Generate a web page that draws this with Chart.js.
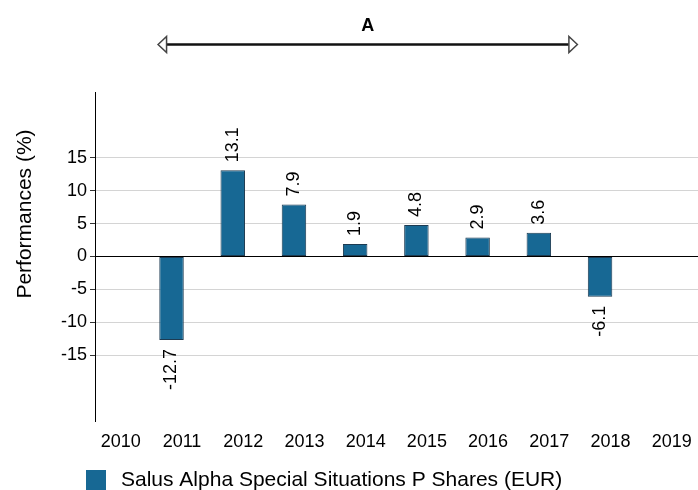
<!DOCTYPE html>
<html><head><meta charset="utf-8">
<script src="https://cdn.jsdelivr.net/npm/chart.js@4/dist/chart.umd.min.js"></script>
<style>html,body{margin:0;padding:0;background:#fff}#wrap{width:698px;height:490px;position:relative}</style>
</head><body><div id="wrap"><canvas id="c" width="698" height="490"></canvas></div>
<script>
// ---- data ----
const years = [2010, 2011, 2012, 2013, 2014, 2015, 2016, 2017, 2018, 2019];
const performance = [null, -12.7, 13.1, 7.9, 1.9, 4.8, 2.9, 3.6, -6.1, null];
const yTicks = [-15, -10, -5, 0, 5, 10, 15];
const seriesLabel = 'Salus Alpha Special Situations P Shares (EUR)';
const yTitle = 'Performances (%)';
const periodLabel = 'A';
const periodRange = [2010.78, 2017.63];

const FONT = '"Liberation Sans", Arial, Helvetica, sans-serif';
const barColor = '#176894';
const barBorder = '#1d3b52';

const overlay = {
  id: 'overlay',
  afterDatasetsDraw(chart) {
    const ctx = chart.ctx;
    const meta = chart.getDatasetMeta(0);
    const xs = chart.scales.x;
    ctx.save();
    // value labels
    ctx.font = '18px ' + FONT;
    ctx.fillStyle = '#000';
    meta.data.forEach((bar, i) => {
      const v = performance[i];
      if (v === null || v === undefined) return;
      const pos = v >= 0;
      ctx.save();
      ctx.translate(bar.x, pos ? bar.y - 8 : bar.y + 9);
      ctx.rotate(-Math.PI / 2);
      ctx.textAlign = pos ? 'left' : 'right';
      ctx.textBaseline = 'middle';
      ctx.fillText(v.toFixed(1), 0, 0);
      ctx.restore();
    });
    // y axis title
    ctx.save();
    ctx.font = '21px ' + FONT;
    ctx.translate(25, 214);
    ctx.rotate(-Math.PI / 2);
    ctx.textAlign = 'center';
    ctx.textBaseline = 'middle';
    ctx.fillText(yTitle, 0, 0);
    ctx.restore();
    // period arrow
    const x1 = xs.getPixelForValue(periodRange[0]);
    const x2 = xs.getPixelForValue(periodRange[1]);
    const ay = 44.5, hl = 8.5, hh = 8;
    ctx.strokeStyle = '#111';
    ctx.lineWidth = 2.5;
    ctx.beginPath();
    ctx.moveTo(x1 + hl, ay); ctx.lineTo(x2 - hl, ay);
    ctx.stroke();
    ctx.lineWidth = 1.5;
    ctx.strokeStyle = '#444';
    ctx.fillStyle = '#fff';
    [[x1, 1], [x2, -1]].forEach(([tx, d]) => {
      ctx.beginPath();
      ctx.moveTo(tx, ay);
      ctx.lineTo(tx + d * hl, ay - hh);
      ctx.lineTo(tx + d * hl, ay + hh);
      ctx.closePath();
      ctx.fill(); ctx.stroke();
    });
    ctx.fillStyle = '#000';
    ctx.font = 'bold 18px ' + FONT;
    ctx.textAlign = 'center';
    ctx.textBaseline = 'middle';
    ctx.fillText(periodLabel, (x1 + x2) / 2, 26);
    // legend
    ctx.fillStyle = barColor;
    ctx.fillRect(86, 470, 20, 20);
    ctx.fillStyle = '#000';
    ctx.font = '21px ' + FONT;
    ctx.textAlign = 'left';
    ctx.textBaseline = 'middle';
    ctx.fillText(chart.data.datasets[0].label, 121, 480);
    ctx.restore();
  }
};

new Chart(document.getElementById('c'), {
  type: 'bar',
  data: {
    datasets: [{
      label: seriesLabel,
      data: years.map((y, i) => ({ x: y, y: performance[i] })),
      backgroundColor: barColor,
      borderColor: barBorder,
      borderWidth: 1,
      borderSkipped: false,
      categoryPercentage: 1,
      barPercentage: 0.4
    }]
  },
  options: {
    responsive: false,
    devicePixelRatio: 1,
    animation: false,
    layout: { padding: { top: 92, right: 0, bottom: 0, left: 0 } },
    plugins: { legend: { display: false }, tooltip: { enabled: false } },
    scales: {
      x: {
        type: 'linear',
        offset: false,
        min: 2009.75,
        max: 2019.6,
        afterBuildTicks: s => { s.ticks = years.map(v => ({ value: v })); },
        afterFit: s => { s.height = 69; },
        grid: { display: false, drawTicks: false, offset: false },
        border: { display: false },
        ticks: {
          autoSkip: false, maxRotation: 0, padding: 10, labelOffset: 10.5,
          color: '#000', font: { family: FONT, size: 18 },
          callback: v => String(v)
        }
      },
      y: {
        min: -25,
        max: 25,
        afterBuildTicks: s => { s.ticks = yTicks.map(v => ({ value: v })); },
        afterFit: s => { s.width = 95; },
        grid: {
          color: c => (c.tick && c.tick.value === 0) ? '#000' : '#d4d4d4',
          tickColor: '#333', tickLength: 5, lineWidth: 1
        },
        border: { display: true, color: '#000' },
        ticks: { padding: 3, color: '#000', font: { family: FONT, size: 18 } }
      }
    }
  },
  plugins: [overlay]
});
</script></body></html>
